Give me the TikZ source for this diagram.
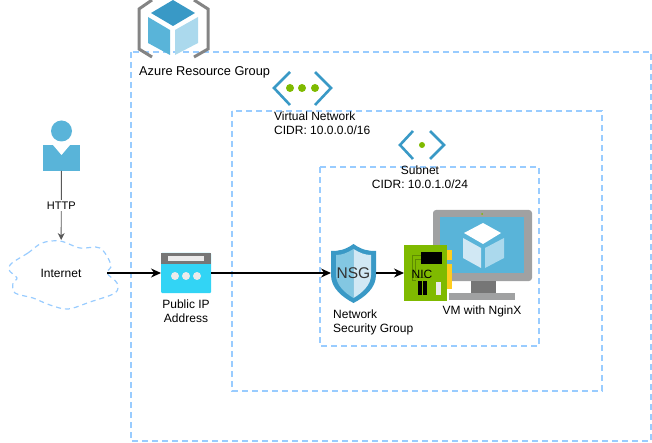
\documentclass[tikz,border=0pt]{standalone}
\usepackage{fontspec}
\setmainfont{Liberation Sans}
\usepackage{xcolor}
\usetikzlibrary{arrows.meta, positioning}
\definecolor{groupline}{RGB}{153, 204, 255}
\definecolor{azuredark}{RGB}{57, 153, 198}
\definecolor{azuremid}{RGB}{89, 180, 217}
\definecolor{azurelight}{RGB}{171, 217, 237}
\definecolor{azurepale}{RGB}{209, 232, 244}
\definecolor{azuregreen}{RGB}{127, 186, 0}
\definecolor{darkgreen}{RGB}{94, 140, 0}
\definecolor{ipcyan}{RGB}{50, 212, 245}
\definecolor{icongrey}{RGB}{118, 118, 118}
\definecolor{screengrey}{RGB}{160, 161, 162}
\definecolor{nicgold}{RGB}{255, 205, 30}
\tikzset{
  groupbox/.style={draw=groupline, line width=1.3pt, dash pattern=on 6pt off 4pt},
  iconbox/.style={inner sep=0pt, outer sep=0pt},
  flow/.style={-{Stealth[length=10pt, width=9pt]}, line width=1.2pt},
  chevron/.style={draw=azuredark, line width=2.6pt},
  caption/.style={font=\fontsize{12}{14}\selectfont, inner sep=0pt},
  leftcaption/.style={caption, align=left},
}
\begin{document}
\begin{tikzpicture}[x=1pt, y=-1pt]
\useasboundingbox (0,0) rectangle (652,443);

% dashed groups
\draw[groupbox] (131,52) rectangle (651,441);
\draw[groupbox] (232,111) rectangle (602,391);
\draw[groupbox] (320,167) rectangle (539,346);

% resource group icon
\draw[draw=icongrey!90, line width=3pt] (152,0) -- (139,9) -- (139,49) -- (152,57);
\draw[draw=icongrey!90, line width=3pt] (194,0) -- (208,9) -- (208,49) -- (194,57);
\fill[azuredark] (173,0) -- (195,13) -- (173,26) -- (151,13) -- cycle;
\fill[azuremid] (148,17) -- (170,30) -- (170,55) -- (148,43) -- cycle;
\fill[azurelight] (175,30) -- (198,17) -- (198,43) -- (175,55) -- cycle;
\node[leftcaption, anchor=west, font=\fontsize{12.8}{14}\selectfont] (rglabel) at (139,72) {Azure Resource Group};

% virtual network icon
\draw[chevron] (290,72) -- (274,88) -- (290,105);
\draw[chevron] (315,72) -- (331,88) -- (315,105);
\foreach \dotx in {290,302,315} \fill[azuregreen] (\dotx,88) circle (4);
\node[leftcaption, anchor=north west] (vnetlabel) at (274,112) {Virtual Network\\CIDR: 10.0.0.0/16};

% subnet icon
\draw[chevron] (413,131) -- (400,145) -- (413,159);
\draw[chevron] (430,131) -- (444,145) -- (430,159);
\fill[azuregreen] (422,145) circle (3);
\node[caption, align=center, anchor=north] (subnetlabel) at (420,166) {Subnet\\CIDR: 10.0.1.0/24};

% user
\fill[azuremid] (61.5,131) circle (10.5);
\node[iconbox, fill=azuremid, minimum width=37, minimum height=26] (user) at (61.5,158) {};
\fill[white] (53,145) -- (61.5,155) -- (70,145) -- cycle;

% internet cloud
\draw[groupbox, line width=1.2pt, dash pattern=on 5pt off 4pt] plot[smooth cycle, tension=0.55] coordinates {(12,263) (28,253) (42,243) (60,241) (80,248) (100,248) (111,265) (107,273) (117,283) (115,293) (90,302) (68,309) (50,305) (33,298) (15,293) (13,283) (17,278) (9,270)};
\node[iconbox, caption, minimum width=92, minimum height=66] (internet) at (61,273) {Internet};

% public ip
\node[iconbox, fill=ipcyan, rounded corners=1pt, minimum width=50, minimum height=40] (pip) at (186,273) {};
\fill[icongrey] (161,253) rectangle (211,263.5);
\fill[white!92!black] (168,256) rectangle (204,261);
\foreach \dotx in {175,186,197} \fill[white!92!black] (\dotx,276) circle (4);
\node[caption, align=center, below=7pt of pip] (piplabel) {Public IP\\Address};

% nsg shield
\fill[azuredark] (353.5,244) .. controls (345,250) and (339,251) .. (331,251) -- (331,275) .. controls (331,288) and (342,297) .. (353.5,303) .. controls (365,297) and (376,288) .. (376,275) -- (376,251) .. controls (368,251) and (362,250) .. (353.5,244) -- cycle;
\fill[azuremid!75!white] (353.5,249) .. controls (347,253) and (342,255) .. (336,255) -- (336,275) .. controls (336,285) and (345,293) .. (353.5,298) -- cycle;
\fill[azurepale] (353.5,249) .. controls (360,253) and (365,255) .. (371,255) -- (371,275) .. controls (371,285) and (362,293) .. (353.5,298) -- cycle;
\node[iconbox, text=black!80, font=\fontsize{15.5}{16}\selectfont, minimum width=45, minimum height=59] (nsg) at (353.5,273) {NSG};
\node[leftcaption, anchor=north west] (nsglabel) at (333,310) {Network\\Security Group};

% vm monitor
\fill[screengrey, rounded corners=3pt] (433,210) rectangle (532,281);
\fill[azuremid] (440,217) rectangle (524,273);
\fill[icongrey] (471,281) rectangle (496,293);
\fill[screengrey] (449,293) rectangle (515,300);
\fill[white] (483,223) -- (501,233) -- (483,244) -- (464,233) -- cycle;
\fill[azurepale] (463,238) -- (481,248) -- (481,268) -- (463,258) -- cycle;
\fill[azurelight] (485,248) -- (504,238) -- (504,258) -- (485,268) -- cycle;
\fill[azuregreen] (482,214) circle (1);
\node[caption, anchor=north] (vmlabel) at (482,306) {VM with NginX};

% nic board
\fill[nicgold] (447,250) rectangle (452,260);
\fill[nicgold] (447,264) rectangle (452,289);
\node[iconbox, fill=azuregreen, minimum width=43, minimum height=55] (nic) at (425.5,273) {};
\draw[darkgreen, line width=0.7pt] (421,255) -- (412,255) -- (412,280) -- (416,280);
\draw[darkgreen, line width=0.7pt] (421,259) -- (415,259) -- (415,277) -- (430,277);
\fill[black] (421,252) rectangle (442,264);
\fill[black] (418,281) rectangle (422,295);
\fill[black] (423,281) rectangle (427,295);
\fill[white!92!black] (436,282) rectangle (441,295);
\node[caption, text=black] (niclabel) at (422,274) {NIC};

\draw[flow, line width=0.9pt, draw=black!65, -{Stealth[length=7pt, width=7pt]}] (user) -- node[pos=0.5, fill=white, font=\fontsize{11}{12}\selectfont, inner sep=1.5pt] (httplabel) {HTTP} (internet);
\draw[flow] (internet) -- (pip);
\draw[flow] (pip) -- (nsg);
\draw[flow] (nsg) -- (nic);
\end{tikzpicture}
\end{document}
